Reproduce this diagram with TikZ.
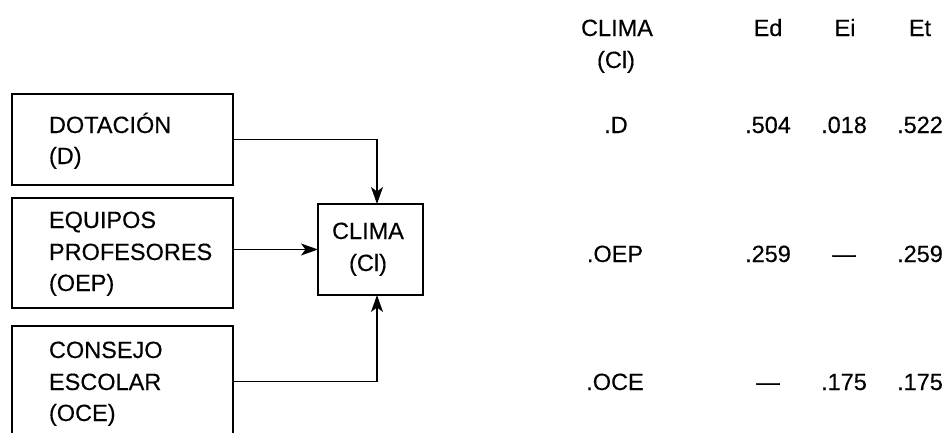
\documentclass[tikz,border=0pt]{standalone}
\usepackage{fontspec}
\setmainfont{Liberation Sans}[FakeBold=0.3]
\usetikzlibrary{arrows.meta}
\begin{document}
\begin{tikzpicture}[x=1pt,y=-1pt,
  every node/.style={inner sep=0pt,outer sep=0pt,font=\fontsize{23.5}{31.5}\selectfont},
  box/.style={draw,line width=1.3pt,anchor=north west},
  lbl/.style={anchor=base west},
  cell/.style={anchor=base},
  arr/.style={line width=1.3pt,-{Stealth[length=17pt,width=12pt,inset=4.5pt]}}]
\useasboundingbox (0,0) rectangle (946,432);
\clip (0,0) rectangle (946,432);
% source boxes
\node[box,minimum width=221pt,minimum height=91pt] (D) at (12,94) {};
\node[box,minimum width=221pt,minimum height=110pt] (OEP) at (12,198) {};
\node[box,minimum width=221pt,minimum height=111pt] (OCE) at (12,326) {};
% target box
\node[box,minimum width=105pt,minimum height=91pt] (Cl) at (318,204) {};
% column of the vertical connectors
\coordinate (kx) at (377,0);
% box texts
\node[lbl] (tD1) at (49,133) {DOTACIÓN};
\node[lbl] (tD2) at (49,164) {(D)};
\node[lbl] (tE1) at (49,228) {EQUIPOS};
\node[lbl] (tE2) at (49,260) {PROFESORES};
\node[lbl] (tE3) at (49,291) {(OEP)};
\node[lbl] (tC1) at (49,358) {CONSEJO};
\node[lbl] (tC2) at (49,390) {ESCOLAR};
\node[lbl] (tC3) at (49,421) {(OCE)};
\node[cell] (tK1) at (368,239) {CLIMA};
\node[cell] (tK2) at (368,271) {(Cl)};
% connectors
\draw[arr] (D.east) -| (kx |- Cl.north);
\draw[arr] (OEP.east |- Cl.west) -- (Cl.west);
\draw[arr] (OCE.east) -| (kx |- Cl.south);
% effects table
\node[cell] (h0a) at (617,36) {CLIMA};
\node[cell] (h0b) at (616,68) {(Cl)};
\node[cell] (hEd) at (768,36) {Ed};
\node[cell] (hEi) at (845,36) {Ei};
\node[cell] (hEt) at (920,36) {Et};
\node[cell] (r1) at (616,133) {.D};
\node[cell] (r1a) at (768,133) {.504};
\node[cell] (r1b) at (844,133) {.018};
\node[cell] (r1c) at (920,133) {.522};
\node[cell] (r2) at (615,262) {.OEP};
\node[cell] (r2a) at (768,262) {.259};
\node[cell] (r2b) at (844,262) {\textemdash};
\node[cell] (r2c) at (920,262) {.259};
\node[cell] (r3) at (615,390) {.OCE};
\node[cell] (r3a) at (768,390) {\textemdash};
\node[cell] (r3b) at (844,390) {.175};
\node[cell] (r3c) at (920,390) {.175};
\end{tikzpicture}
\end{document}
